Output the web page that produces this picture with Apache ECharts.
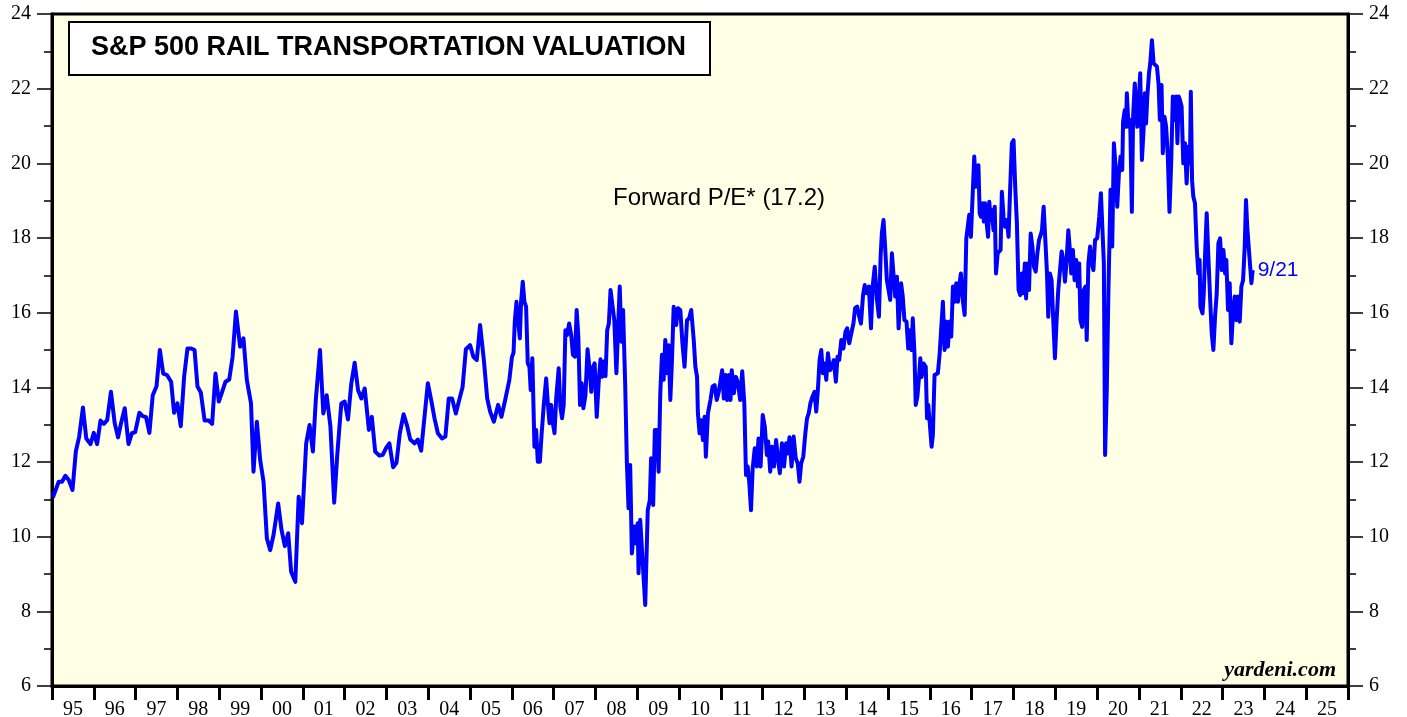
<!DOCTYPE html>
<html>
<head>
<meta charset="utf-8">
<script src="https://cdn.jsdelivr.net/npm/echarts@6/dist/echarts.min.js"></script>
<style>
html,body{margin:0;padding:0;background:#fff;}
#chart{width:1407px;height:717px;}
</style>
</head>
<body>
<div id="chart"></div>
<script>
// Year labels on the x axis (centered within each year)
const yearLabels = ['95','96','97','98','99','00','01','02','03','04','05','06','07','08','09','10','11','12','13','14','15','16','17','18','19','20','21','22','23','24','25'];

// Forward P/E readings: [decimal year, value]
const pe1995to2000 = [
[1995.02,11.05],[1995.06,11.07],[1995.16,11.47],[1995.24,11.47],[1995.32,11.63],[1995.40,11.52],[1995.49,11.25],[1995.57,12.28],[1995.65,12.68],[1995.74,13.46],[1995.82,12.63],[1995.92,12.48],[1996.00,12.78],[1996.08,12.48],[1996.16,13.11],[1996.24,13.02],[1996.32,13.12],[1996.41,13.88],[1996.50,13.04],[1996.58,12.66],[1996.66,13.08],[1996.74,13.44],[1996.83,12.48],[1996.91,12.77],[1996.99,12.80],[1997.09,13.32],[1997.17,13.23],[1997.25,13.20],[1997.33,12.78],[1997.41,13.79],[1997.50,14.03],[1997.58,15.0],[1997.66,14.37],[1997.75,14.33],[1997.85,14.15],[1997.92,13.32],[1998.00,13.57],[1998.08,12.96],[1998.16,14.28],[1998.24,15.04],[1998.33,15.04],[1998.41,15.0],[1998.48,14.02],[1998.56,13.86],[1998.65,13.11],[1998.75,13.11],[1998.83,13.02],[1998.91,14.37],[1998.99,13.62],[1999.07,13.88],[1999.15,14.15],[1999.24,14.21],[1999.32,14.82],[1999.40,16.03],[1999.50,15.09],[1999.58,15.31],[1999.66,14.20],[1999.76,13.57],[1999.82,11.74],[1999.90,13.08],[1999.98,12.05]
];
const pe2000to2006 = [
[2000.06,11.47],[2000.14,9.95],[2000.22,9.64],[2000.30,10.05],[2000.41,10.89],[2000.49,10.18],[2000.57,9.75],[2000.65,10.09],[2000.72,9.06],[2000.82,8.79],[2000.90,11.07],[2000.98,10.36],[2001.08,12.5],[2001.16,12.99],[2001.24,12.28],[2001.31,13.66],[2001.41,15.0],[2001.49,13.30],[2001.57,13.79],[2001.66,12.95],[2001.75,10.91],[2001.82,12.14],[2001.92,13.57],[2002.00,13.62],[2002.08,13.14],[2002.16,14.11],[2002.24,14.66],[2002.32,13.93],[2002.40,13.70],[2002.48,13.97],[2002.58,12.86],[2002.65,13.21],[2002.73,12.28],[2002.83,12.17],[2002.91,12.19],[2002.99,12.37],[2003.07,12.5],[2003.16,11.86],[2003.24,11.98],[2003.32,12.77],[2003.41,13.28],[2003.49,12.99],[2003.57,12.60],[2003.67,12.50],[2003.75,12.60],[2003.83,12.30],[2003.91,13.21],[2003.99,14.11],[2004.07,13.66],[2004.15,13.17],[2004.23,12.77],[2004.33,12.63],[2004.41,12.68],[2004.49,13.70],[2004.57,13.70],[2004.66,13.30],[2004.74,13.66],[2004.82,14.0],[2004.90,15.02],[2005.00,15.13],[2005.08,14.82],[2005.16,14.73],[2005.24,15.67],[2005.33,14.73],[2005.41,13.70],[2005.48,13.35],[2005.57,13.08],[2005.67,13.53],[2005.75,13.21],[2005.84,13.66],[2005.94,14.20],[2006.00,14.80]
];
const pe2006to2010 = [
[2006.04,14.93],[2006.07,15.76],[2006.11,16.29],[2006.15,15.80],[2006.19,15.31],[2006.22,16.29],[2006.26,16.83],[2006.30,16.29],[2006.34,16.16],[2006.38,14.64],[2006.42,14.55],[2006.45,13.93],[2006.49,14.78],[2006.54,12.41],[2006.58,12.86],[2006.62,12.01],[2006.67,12.01],[2006.71,12.72],[2006.76,13.48],[2006.82,14.24],[2006.86,13.57],[2006.90,13.04],[2006.94,13.53],[2006.98,13.04],[2007.02,12.77],[2007.06,13.70],[2007.12,14.51],[2007.16,13.48],[2007.20,13.17],[2007.24,13.53],[2007.28,15.53],[2007.32,15.40],[2007.37,15.71],[2007.42,15.40],[2007.46,14.87],[2007.51,14.82],[2007.55,16.07],[2007.59,15.36],[2007.63,13.53],[2007.67,14.11],[2007.71,13.44],[2007.76,13.79],[2007.81,15.02],[2007.86,14.46],[2007.90,13.88],[2007.94,14.55],[2007.98,14.64],[2008.03,13.21],[2008.08,14.20],[2008.12,14.75],[2008.16,14.28],[2008.20,14.69],[2008.24,14.30],[2008.28,15.53],[2008.32,15.71],[2008.36,16.61],[2008.40,16.65],[2008.45,15.80],[2008.50,14.38],[2008.54,15.58],[2008.58,16.70],[2008.62,15.22],[2008.66,16.07],[2008.71,14.11],[2008.75,12.01],[2008.79,10.76],[2008.83,11.92],[2008.87,9.55],[2008.93,10.27],[2008.97,9.82],[2009.01,10.36],[2009.03,9.02],[2009.07,10.45],[2009.13,9.29],[2009.19,8.17],[2009.25,10.71],[2009.30,10.98],[2009.33,12.10],[2009.38,10.85],[2009.42,12.86],[2009.47,12.86],[2009.51,11.74],[2009.55,13.84],[2009.59,14.87],[2009.63,14.20],[2009.67,15.27],[2009.71,14.38],[2009.75,15.13],[2009.79,13.66],[2009.83,14.73],[2009.87,16.16],[2009.93,15.67],[2009.97,16.12],[2010.03,16.07]
];
const pe2010to2015 = [
[2010.08,15.18],[2010.13,14.55],[2010.19,15.80],[2010.24,15.85],[2010.29,16.07],[2010.35,15.27],[2010.39,14.55],[2010.43,14.28],[2010.45,13.30],[2010.49,12.77],[2010.53,13.12],[2010.57,12.59],[2010.61,13.21],[2010.64,12.14],[2010.69,13.30],[2010.75,13.66],[2010.80,14.02],[2010.85,14.06],[2010.90,13.66],[2010.95,13.88],[2010.99,13.84],[2011.03,14.46],[2011.07,13.70],[2011.11,14.33],[2011.15,13.66],[2011.19,14.33],[2011.23,13.66],[2011.26,14.46],[2011.31,13.84],[2011.36,14.28],[2011.41,14.11],[2011.46,13.66],[2011.51,14.43],[2011.56,13.57],[2011.60,11.65],[2011.64,11.88],[2011.68,11.43],[2011.72,10.71],[2011.76,11.83],[2011.81,12.37],[2011.86,11.88],[2011.90,12.63],[2011.95,11.88],[2012.00,13.26],[2012.05,12.95],[2012.10,12.19],[2012.13,12.55],[2012.18,11.74],[2012.22,12.41],[2012.27,11.88],[2012.32,12.59],[2012.37,12.05],[2012.41,11.70],[2012.46,12.50],[2012.51,11.88],[2012.56,12.50],[2012.60,12.23],[2012.64,12.66],[2012.69,11.88],[2012.74,12.68],[2012.79,12.10],[2012.84,11.96],[2012.88,11.47],[2012.92,11.96],[2012.97,12.14],[2013.02,12.77],[2013.06,13.17],[2013.10,13.30],[2013.14,13.57],[2013.19,13.75],[2013.24,13.88],[2013.28,13.35],[2013.32,13.93],[2013.36,14.73],[2013.40,15.0],[2013.44,14.38],[2013.48,14.64],[2013.52,14.20],[2013.56,14.91],[2013.61,14.46],[2013.66,14.55],[2013.70,14.73],[2013.75,14.15],[2013.79,14.82],[2013.83,14.73],[2013.88,15.27],[2013.93,15.04],[2013.98,15.49],[2014.02,15.58],[2014.07,15.18],[2014.12,15.45],[2014.17,15.71],[2014.21,16.12],[2014.26,16.16],[2014.30,15.94],[2014.35,15.71],[2014.40,16.47],[2014.44,16.74],[2014.49,16.52],[2014.54,16.70],[2014.59,15.58],[2014.63,16.70],[2014.68,17.23],[2014.73,16.38],[2014.78,15.89],[2014.82,17.50],[2014.85,18.13],[2014.89,18.48],[2014.93,17.72],[2014.97,16.87],[2015.01,16.61],[2015.05,16.34]
];
const pe2015to2020 = [
[2015.09,17.59],[2015.13,17.0],[2015.17,16.43],[2015.21,16.96],[2015.25,15.58],[2015.31,16.79],[2015.35,16.43],[2015.39,15.80],[2015.44,15.76],[2015.48,15.04],[2015.52,15.53],[2015.56,15.0],[2015.59,15.85],[2015.63,14.91],[2015.66,13.53],[2015.70,13.75],[2015.74,14.28],[2015.77,14.78],[2015.80,14.28],[2015.85,14.64],[2015.90,14.55],[2015.93,13.17],[2015.96,13.53],[2016.00,13.48],[2016.04,12.41],[2016.07,12.72],[2016.11,14.33],[2016.15,14.33],[2016.19,14.38],[2016.23,14.87],[2016.27,14.91],[2016.31,16.29],[2016.35,15.0],[2016.39,15.76],[2016.43,15.09],[2016.47,15.76],[2016.51,15.36],[2016.55,16.70],[2016.59,16.29],[2016.63,16.79],[2016.67,16.29],[2016.71,16.79],[2016.74,17.05],[2016.79,16.29],[2016.83,15.94],[2016.87,17.99],[2016.91,18.03],[2016.94,18.62],[2016.98,18.03],[2017.02,18.08],[2017.06,20.18],[2017.10,19.37],[2017.14,19.55],[2017.16,19.95],[2017.19,18.66],[2017.22,18.57],[2017.26,18.93],[2017.29,18.44],[2017.32,18.93],[2017.35,18.48],[2017.39,18.03],[2017.42,18.97],[2017.45,18.48],[2017.48,18.75],[2017.52,18.21],[2017.55,18.84],[2017.58,17.05],[2017.62,17.59],[2017.66,17.59],[2017.69,17.68],[2017.72,19.24],[2017.76,18.57],[2017.80,18.30],[2017.84,18.48],[2017.88,18.03],[2017.92,19.37],[2017.96,20.54],[2018.00,20.62],[2018.04,19.37],[2018.08,18.39],[2018.12,16.61],[2018.16,16.47],[2018.20,17.05],[2018.23,16.52],[2018.27,17.32],[2018.30,16.38],[2018.33,17.32],[2018.37,16.61],[2018.41,18.12],[2018.45,17.77],[2018.49,17.23],[2018.53,17.10],[2018.57,17.59],[2018.61,17.95],[2018.65,18.08],[2018.68,18.21],[2018.72,18.84],[2018.76,17.95],[2018.80,17.05],[2018.83,15.89],[2018.87,17.05],[2018.91,16.87],[2018.95,15.80],[2018.99,14.78],[2019.03,15.80],[2019.07,16.61],[2019.11,16.61],[2019.15,17.64],[2019.19,17.41],[2019.23,16.83],[2019.27,17.41],[2019.31,18.21],[2019.35,17.64],[2019.38,17.05],[2019.42,17.68],[2019.46,16.87],[2019.50,17.41],[2019.54,16.70],[2019.57,17.32],[2019.60,15.80],[2019.64,15.62],[2019.68,16.61],[2019.72,16.70],[2019.75,15.27],[2019.79,17.32]
];
const pe2020to2023 = [
[2019.83,17.77],[2019.87,17.32],[2019.91,17.14],[2019.95,17.95],[2020.00,17.99],[2020.05,18.57],[2020.09,19.20],[2020.13,19.20],[2020.16,17.32],[2020.19,12.19],[2020.23,13.93],[2020.27,16.61],[2020.32,19.29],[2020.36,17.77],[2020.40,20.54],[2020.44,19.91],[2020.48,18.84],[2020.52,19.73],[2020.56,20.18],[2020.60,19.82],[2020.62,21.12],[2020.66,21.43],[2020.69,20.98],[2020.71,21.88],[2020.75,20.98],[2020.79,21.16],[2020.83,18.70],[2020.86,21.25],[2020.90,22.14],[2020.93,21.43],[2020.96,20.98],[2021.00,21.79],[2021.03,22.41],[2021.07,20.09],[2021.11,20.89],[2021.14,21.88],[2021.17,21.07],[2021.20,21.79],[2021.24,22.41],[2021.27,22.68],[2021.31,23.30],[2021.35,22.68],[2021.39,22.72],[2021.43,22.59],[2021.47,22.10],[2021.50,21.16],[2021.54,22.10],[2021.57,20.27],[2021.61,21.25],[2021.65,20.98],[2021.69,20.18],[2021.73,18.70],[2021.77,20.0],[2021.81,21.79],[2021.85,21.16],[2021.89,21.79],[2021.92,20.54],[2021.95,21.79],[2021.98,21.70],[2022.02,21.52],[2022.06,20.0],[2022.10,20.54],[2022.14,19.46],[2022.18,20.45],[2022.22,20.0],[2022.24,21.92],[2022.27,19.55],[2022.30,19.11],[2022.34,18.93],[2022.38,17.77],[2022.42,17.05],[2022.45,17.41],[2022.47,16.16],[2022.52,15.98],[2022.55,16.52],[2022.58,17.50],[2022.62,18.66],[2022.66,17.50],[2022.70,16.43],[2022.74,15.45],[2022.78,15.0],[2022.82,15.89],[2022.86,16.52],[2022.90,17.86],[2022.94,17.99],[2022.98,17.14],[2023.02,17.68],[2023.06,17.05],[2023.09,17.41],[2023.13,16.07],[2023.17,16.79],[2023.21,15.18],[2023.25,15.98],[2023.29,16.43],[2023.33,15.80],[2023.37,16.43],[2023.41,15.76],[2023.45,16.70],[2023.49,16.87],[2023.53,17.77],[2023.56,19.02],[2023.59,18.30],[2023.63,17.68],[2023.67,17.64],[2023.69,16.79],[2023.72,17.14]
];
const forwardPE = [].concat(pe1995to2000, pe2000to2006, pe2006to2010, pe2010to2015, pe2015to2020, pe2020to2023);

const chart = echarts.init(document.getElementById('chart'), null, {renderer: 'canvas'});
const serif = '"Liberation Serif", "Times New Roman", serif';
const sans = '"Liberation Sans", Arial, sans-serif';

const yAxisBase = {
  type: 'value', min: 6, max: 24, interval: 2,
  axisLine: {show: true, lineStyle: {color: '#000', width: 3}},
  axisTick: {show: true, inside: false, length: 15, lineStyle: {color: '#000', width: 1.5}},
  minorTick: {show: true, splitNumber: 2, length: 8, lineStyle: {color: '#000', width: 1.5}},
  axisLabel: {color: '#000', fontFamily: serif, fontSize: 20, margin: 21},
  splitLine: {show: false}
};

chart.setOption({
  animation: false,
  backgroundColor: '#ffffff',
  grid: {left: 52, right: 59, top: 14, bottom: 31, show: true, backgroundColor: '#FFFFE5', borderColor: '#000', borderWidth: 3, containLabel: false, outerBoundsMode: 'none'},
  xAxis: [
    {
      type: 'value', min: 1995, max: 2026, position: 'bottom', show: false
    },
    {
      type: 'category', data: yearLabels, boundaryGap: true, position: 'bottom',
      axisLine: {show: true, lineStyle: {color: '#000', width: 3}},
      axisTick: {show: true, inside: false, length: 14, interval: 0, lineStyle: {color: '#000', width: 3}},
      axisLabel: {color: '#000', fontFamily: serif, fontSize: 20, margin: 14, interval: 0},
      splitLine: {show: false}
    }
  ],
  yAxis: [
    Object.assign({position: 'left'}, yAxisBase),
    Object.assign({position: 'right'}, yAxisBase)
  ],
  series: [{
    type: 'line',
    xAxisIndex: 0, yAxisIndex: 0,
    data: forwardPE,
    showSymbol: false,
    lineStyle: {color: '#0000FF', width: 4, join: 'round'},
    itemStyle: {color: '#0000FF'},
    endLabel: {show: true, formatter: '9/21', color: '#0000FF', fontFamily: sans, fontSize: 21, distance: 5}
  }],
  graphic: [
    {type: 'rect', left: 68, top: 21, shape: {width: 641, height: 53}, style: {fill: '#fff', stroke: '#000', lineWidth: 2}, z: 10},
    {type: 'text', left: 91, top: 34, style: {text: 'S&P 500 RAIL TRANSPORTATION VALUATION', fill: '#000', font: 'bold 27px ' + sans}, z: 11},
    {type: 'text', left: 613, top: 186, style: {text: 'Forward P/E* (17.2)', fill: '#000', font: '24px ' + sans}, z: 11},
    {type: 'text', right: 71, top: 659, style: {text: 'yardeni.com', fill: '#000', font: 'italic bold 22px ' + serif}, z: 11}
  ]
});
</script>
</body>
</html>
